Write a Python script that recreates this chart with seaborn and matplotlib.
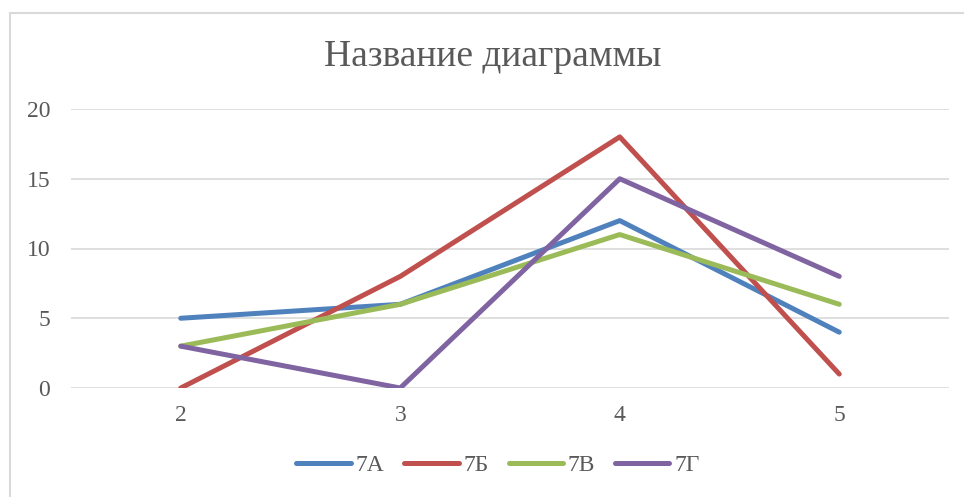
import pandas as pd
import numpy as np
import seaborn as sns
import matplotlib.pyplot as plt
from matplotlib.patches import Rectangle

# data
grades = ["2", "3", "4", "5"]
cls_7a = [5, 6, 12, 4]
cls_7b = [0, 8, 18, 1]
cls_7v = [3, 6, 11, 6]
cls_7g = [3, 0, 15, 8]
series_names = ["7А", "7Б", "7В", "7Г"]
colors = ["#4F81BD", "#C0504D", "#9BBB59", "#8064A2"]

rows = []
for name, vals in zip(series_names, [cls_7a, cls_7b, cls_7v, cls_7g]):
    for i, v in enumerate(vals):
        rows.append({"pos": i, "value": v, "cls": name})
df = pd.DataFrame(rows)

sns.set_style("white")
plt.rcParams['font.family'] = ['Liberation Serif', 'DejaVu Serif']
txt_color = "#595959"

fig = plt.figure(figsize=(9.64, 4.97), dpi=100)
ax = fig.add_axes([71/964, 1 - 388/497, (949-71)/964, (388-109)/497])

sns.lineplot(data=df, x="pos", y="value", hue="cls", palette=colors,
             linewidth=3.6, ax=ax, solid_capstyle="round", legend=True)

ax.set_xlim(-0.5, 3.5)
ax.set_ylim(0, 20)
ax.set_xticks(range(len(grades)))
ax.set_xticklabels(grades)
ax.set_yticks([0, 5, 10, 15, 20])
ax.tick_params(axis="both", length=0, labelsize=17, colors=txt_color)
ax.tick_params(axis="x", pad=12)
ax.tick_params(axis="y", pad=15)
ax.yaxis.grid(True, color="#D9D9D9", linewidth=1.2)
ax.set_axisbelow(True)
for s in ax.spines.values():
    s.set_visible(False)
ax.set_xlabel("")
ax.set_ylabel("")

fig.text(493/964, 1 - 57/497, "Название диаграммы", ha="center", va="center",
         fontsize=27, color=txt_color)

handles, labels = ax.get_legend_handles_labels()
for h in handles:
    h.set_solid_capstyle("round")
ax.legend(handles, labels, loc="center", bbox_to_anchor=(498/964, 1 - 465/497),
          bbox_transform=fig.transFigure, ncol=4, frameon=False, fontsize=17,
          handlelength=2.3, handletextpad=0.2, columnspacing=0.85, labelcolor=txt_color)

# chart border
fig.patches.append(Rectangle((10/964, -0.1), 1.0, 1 - 13/497 + 0.1,
                             transform=fig.transFigure, fill=False,
                             edgecolor="#D9D9D9", linewidth=1.5))

fig.savefig("out.png", dpi=100)
